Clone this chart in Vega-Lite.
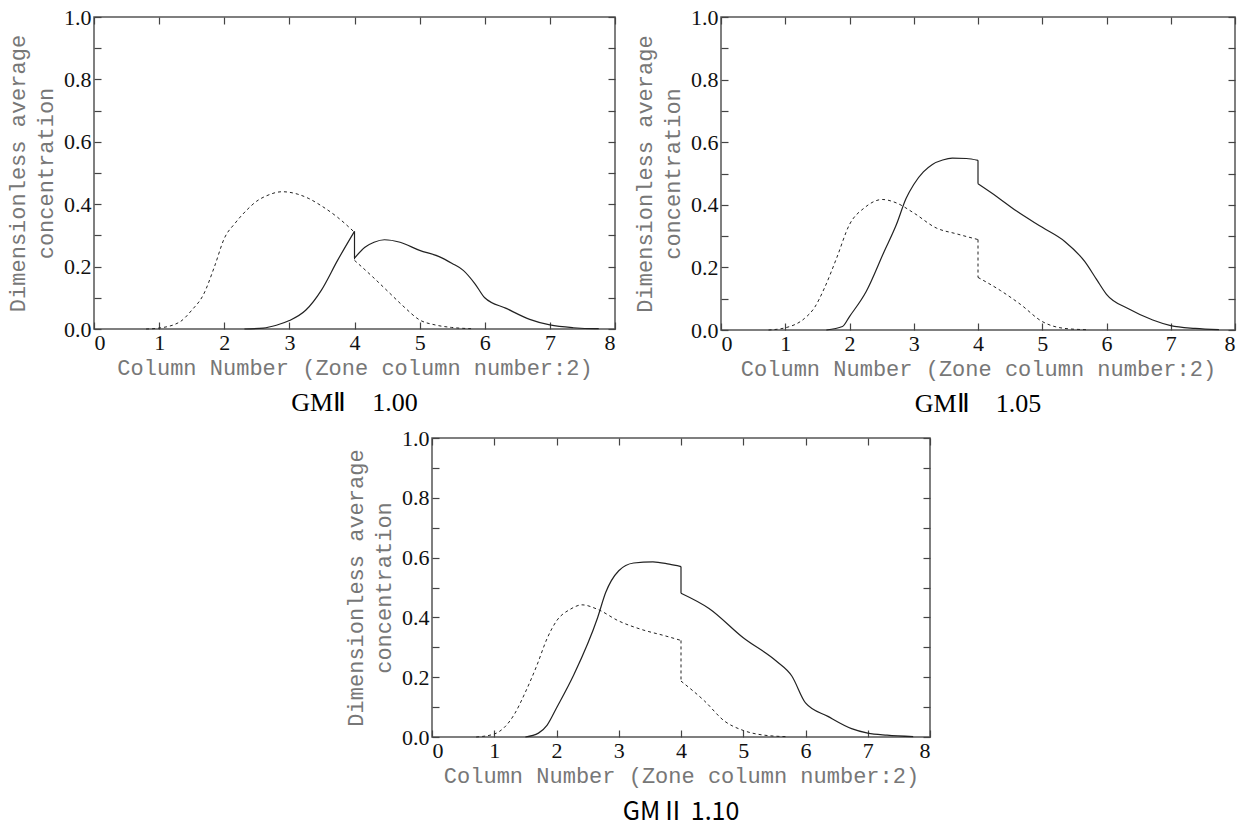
{
  "$schema": "https://vega.github.io/schema/vega-lite/v6.json",
  "background": "white",
  "padding": 5,
  "config": {
    "view": {"stroke": "#555", "strokeWidth": 1.5},
    "axis": {
      "labelFont": "Liberation Serif", "labelFontSize": 22, "labelColor": "#111",
      "titleFont": "Liberation Mono", "titleFontSize": 22, "titleFontWeight": "normal", "titleColor": "#777",
      "domain": false, "grid": false, "tickColor": "#444", "tickWidth": 1.2, "tickSize": -7
    },
    "line": {"interpolate": "monotone", "color": "#222"}
  },
  "datasets": {
    "d": [
      {"p":"a","s":"d","g":0,"i":0,"x":0.8,"y":0},{"p":"a","s":"d","g":0,"i":1,"x":1.0,"y":0.003},{"p":"a","s":"d","g":0,"i":2,"x":1.32,"y":0.023},{"p":"a","s":"d","g":0,"i":3,"x":1.5,"y":0.06},{"p":"a","s":"d","g":0,"i":4,"x":1.68,"y":0.11},{"p":"a","s":"d","g":0,"i":5,"x":1.85,"y":0.2},{"p":"a","s":"d","g":0,"i":6,"x":2.0,"y":0.29},{"p":"a","s":"d","g":0,"i":7,"x":2.17,"y":0.34},{"p":"a","s":"d","g":0,"i":8,"x":2.34,"y":0.38},{"p":"a","s":"d","g":0,"i":9,"x":2.5,"y":0.41},{"p":"a","s":"d","g":0,"i":10,"x":2.65,"y":0.427},{"p":"a","s":"d","g":0,"i":11,"x":2.89,"y":0.44},{"p":"a","s":"d","g":0,"i":12,"x":3.13,"y":0.432},{"p":"a","s":"d","g":0,"i":13,"x":3.3,"y":0.418},{"p":"a","s":"d","g":0,"i":14,"x":3.49,"y":0.395},{"p":"a","s":"d","g":0,"i":15,"x":3.74,"y":0.358},{"p":"a","s":"d","g":0,"i":16,"x":4.0,"y":0.31},
      {"p":"a","s":"d","g":2,"i":0,"x":4.0,"y":0.31},{"p":"a","s":"d","g":2,"i":1,"x":4.0,"y":0.22},
      {"p":"a","s":"d","g":1,"i":17,"x":4.0,"y":0.22},{"p":"a","s":"d","g":1,"i":18,"x":4.28,"y":0.167},{"p":"a","s":"d","g":1,"i":19,"x":4.52,"y":0.119},{"p":"a","s":"d","g":1,"i":20,"x":4.76,"y":0.071},{"p":"a","s":"d","g":1,"i":21,"x":5.0,"y":0.029},{"p":"a","s":"d","g":1,"i":22,"x":5.24,"y":0.013},{"p":"a","s":"d","g":1,"i":23,"x":5.49,"y":0.005},{"p":"a","s":"d","g":1,"i":24,"x":5.79,"y":0.001},
      {"p":"a","s":"s","g":0,"i":0,"x":2.31,"y":0},{"p":"a","s":"s","g":0,"i":1,"x":2.6,"y":0.003},{"p":"a","s":"s","g":0,"i":2,"x":2.8,"y":0.012},{"p":"a","s":"s","g":0,"i":3,"x":3.0,"y":0.027},{"p":"a","s":"s","g":0,"i":4,"x":3.25,"y":0.06},{"p":"a","s":"s","g":0,"i":5,"x":3.49,"y":0.124},{"p":"a","s":"s","g":0,"i":6,"x":3.74,"y":0.22},{"p":"a","s":"s","g":0,"i":7,"x":4.0,"y":0.313},
      {"p":"a","s":"s","g":2,"i":0,"x":4.0,"y":0.313},{"p":"a","s":"s","g":2,"i":1,"x":4.0,"y":0.227},
      {"p":"a","s":"s","g":1,"i":8,"x":4.0,"y":0.227},{"p":"a","s":"s","g":1,"i":9,"x":4.16,"y":0.262},{"p":"a","s":"s","g":1,"i":10,"x":4.3,"y":0.278},{"p":"a","s":"s","g":1,"i":11,"x":4.46,"y":0.286},{"p":"a","s":"s","g":1,"i":12,"x":4.7,"y":0.278},{"p":"a","s":"s","g":1,"i":13,"x":5.0,"y":0.252},{"p":"a","s":"s","g":1,"i":14,"x":5.3,"y":0.232},{"p":"a","s":"s","g":1,"i":15,"x":5.5,"y":0.21},{"p":"a","s":"s","g":1,"i":16,"x":5.67,"y":0.188},{"p":"a","s":"s","g":1,"i":17,"x":5.85,"y":0.145},{"p":"a","s":"s","g":1,"i":18,"x":6.0,"y":0.1},{"p":"a","s":"s","g":1,"i":19,"x":6.33,"y":0.066},{"p":"a","s":"s","g":1,"i":20,"x":6.69,"y":0.031},{"p":"a","s":"s","g":1,"i":21,"x":7.0,"y":0.013},{"p":"a","s":"s","g":1,"i":22,"x":7.36,"y":0.004},{"p":"a","s":"s","g":1,"i":23,"x":7.69,"y":0.001},{"p":"a","s":"s","g":1,"i":24,"x":7.75,"y":0.001},
      {"p":"b","s":"d","g":0,"i":0,"x":0.74,"y":0},{"p":"b","s":"d","g":0,"i":1,"x":1.0,"y":0.007},{"p":"b","s":"d","g":0,"i":2,"x":1.3,"y":0.037},{"p":"b","s":"d","g":0,"i":3,"x":1.45,"y":0.07},{"p":"b","s":"d","g":0,"i":4,"x":1.61,"y":0.134},{"p":"b","s":"d","g":0,"i":5,"x":1.8,"y":0.23},{"p":"b","s":"d","g":0,"i":6,"x":2.0,"y":0.337},{"p":"b","s":"d","g":0,"i":7,"x":2.23,"y":0.39},{"p":"b","s":"d","g":0,"i":8,"x":2.51,"y":0.417},{"p":"b","s":"d","g":0,"i":9,"x":2.73,"y":0.406},{"p":"b","s":"d","g":0,"i":10,"x":3.0,"y":0.374},{"p":"b","s":"d","g":0,"i":11,"x":3.35,"y":0.326},{"p":"b","s":"d","g":0,"i":12,"x":3.67,"y":0.307},{"p":"b","s":"d","g":0,"i":13,"x":4.0,"y":0.289},
      {"p":"b","s":"d","g":2,"i":0,"x":4.0,"y":0.289},{"p":"b","s":"d","g":2,"i":1,"x":4.0,"y":0.168},
      {"p":"b","s":"d","g":1,"i":14,"x":4.0,"y":0.168},{"p":"b","s":"d","g":1,"i":15,"x":4.35,"y":0.126},{"p":"b","s":"d","g":1,"i":16,"x":4.66,"y":0.082},{"p":"b","s":"d","g":1,"i":17,"x":5.0,"y":0.027},{"p":"b","s":"d","g":1,"i":18,"x":5.35,"y":0.005},{"p":"b","s":"d","g":1,"i":19,"x":5.69,"y":0.001},
      {"p":"b","s":"s","g":0,"i":0,"x":1.64,"y":0},{"p":"b","s":"s","g":0,"i":1,"x":1.89,"y":0.011},{"p":"b","s":"s","g":0,"i":2,"x":2.0,"y":0.043},{"p":"b","s":"s","g":0,"i":3,"x":2.26,"y":0.123},{"p":"b","s":"s","g":0,"i":4,"x":2.54,"y":0.251},{"p":"b","s":"s","g":0,"i":5,"x":2.73,"y":0.337},{"p":"b","s":"s","g":0,"i":6,"x":2.88,"y":0.42},{"p":"b","s":"s","g":0,"i":7,"x":3.0,"y":0.465},{"p":"b","s":"s","g":0,"i":8,"x":3.15,"y":0.505},{"p":"b","s":"s","g":0,"i":9,"x":3.29,"y":0.529},{"p":"b","s":"s","g":0,"i":10,"x":3.45,"y":0.543},{"p":"b","s":"s","g":0,"i":11,"x":3.6,"y":0.549},{"p":"b","s":"s","g":0,"i":12,"x":3.82,"y":0.548},{"p":"b","s":"s","g":0,"i":13,"x":4.0,"y":0.542},
      {"p":"b","s":"s","g":2,"i":0,"x":4.0,"y":0.542},{"p":"b","s":"s","g":2,"i":1,"x":4.0,"y":0.467},
      {"p":"b","s":"s","g":1,"i":14,"x":4.0,"y":0.467},{"p":"b","s":"s","g":1,"i":15,"x":4.3,"y":0.425},{"p":"b","s":"s","g":1,"i":16,"x":4.6,"y":0.38},{"p":"b","s":"s","g":1,"i":17,"x":5.0,"y":0.328},{"p":"b","s":"s","g":1,"i":18,"x":5.35,"y":0.283},{"p":"b","s":"s","g":1,"i":19,"x":5.66,"y":0.219},{"p":"b","s":"s","g":1,"i":20,"x":5.85,"y":0.16},{"p":"b","s":"s","g":1,"i":21,"x":6.0,"y":0.114},{"p":"b","s":"s","g":1,"i":22,"x":6.35,"y":0.067},{"p":"b","s":"s","g":1,"i":23,"x":6.72,"y":0.032},{"p":"b","s":"s","g":1,"i":24,"x":7.0,"y":0.014},{"p":"b","s":"s","g":1,"i":25,"x":7.38,"y":0.005},{"p":"b","s":"s","g":1,"i":26,"x":7.75,"y":0.001},
      {"p":"c","s":"d","g":0,"i":0,"x":0.71,"y":0},{"p":"c","s":"d","g":0,"i":1,"x":1.0,"y":0.01},{"p":"c","s":"d","g":0,"i":2,"x":1.32,"y":0.075},{"p":"c","s":"d","g":0,"i":3,"x":1.5,"y":0.15},{"p":"c","s":"d","g":0,"i":4,"x":1.68,"y":0.237},{"p":"c","s":"d","g":0,"i":5,"x":1.85,"y":0.33},{"p":"c","s":"d","g":0,"i":6,"x":2.0,"y":0.388},{"p":"c","s":"d","g":0,"i":7,"x":2.22,"y":0.427},{"p":"c","s":"d","g":0,"i":8,"x":2.41,"y":0.442},{"p":"c","s":"d","g":0,"i":9,"x":2.66,"y":0.427},{"p":"c","s":"d","g":0,"i":10,"x":3.0,"y":0.388},{"p":"c","s":"d","g":0,"i":11,"x":3.36,"y":0.36},{"p":"c","s":"d","g":0,"i":12,"x":3.75,"y":0.338},{"p":"c","s":"d","g":0,"i":13,"x":4.0,"y":0.323},
      {"p":"c","s":"d","g":2,"i":0,"x":4.0,"y":0.323},{"p":"c","s":"d","g":2,"i":1,"x":4.0,"y":0.187},
      {"p":"c","s":"d","g":1,"i":14,"x":4.0,"y":0.187},{"p":"c","s":"d","g":1,"i":15,"x":4.38,"y":0.12},{"p":"c","s":"d","g":1,"i":16,"x":4.7,"y":0.053},{"p":"c","s":"d","g":1,"i":17,"x":5.0,"y":0.022},{"p":"c","s":"d","g":1,"i":18,"x":5.34,"y":0.006},{"p":"c","s":"d","g":1,"i":19,"x":5.72,"y":0.001},
      {"p":"c","s":"s","g":0,"i":0,"x":1.5,"y":0},{"p":"c","s":"s","g":0,"i":1,"x":1.71,"y":0.013},{"p":"c","s":"s","g":0,"i":2,"x":1.85,"y":0.04},{"p":"c","s":"s","g":0,"i":3,"x":2.0,"y":0.097},{"p":"c","s":"s","g":0,"i":4,"x":2.28,"y":0.209},{"p":"c","s":"s","g":0,"i":5,"x":2.66,"y":0.399},{"p":"c","s":"s","g":0,"i":6,"x":2.79,"y":0.483},{"p":"c","s":"s","g":0,"i":7,"x":3.0,"y":0.556},{"p":"c","s":"s","g":0,"i":8,"x":3.24,"y":0.582},{"p":"c","s":"s","g":0,"i":9,"x":3.55,"y":0.586},{"p":"c","s":"s","g":0,"i":10,"x":3.81,"y":0.578},{"p":"c","s":"s","g":0,"i":11,"x":4.0,"y":0.57},
      {"p":"c","s":"s","g":2,"i":0,"x":4.0,"y":0.57},{"p":"c","s":"s","g":2,"i":1,"x":4.0,"y":0.481},
      {"p":"c","s":"s","g":1,"i":12,"x":4.0,"y":0.481},{"p":"c","s":"s","g":1,"i":13,"x":4.45,"y":0.43},{"p":"c","s":"s","g":1,"i":14,"x":5.0,"y":0.332},{"p":"c","s":"s","g":1,"i":15,"x":5.53,"y":0.254},{"p":"c","s":"s","g":1,"i":16,"x":5.78,"y":0.204},{"p":"c","s":"s","g":1,"i":17,"x":6.0,"y":0.114},{"p":"c","s":"s","g":1,"i":18,"x":6.36,"y":0.069},{"p":"c","s":"s","g":1,"i":19,"x":6.74,"y":0.028},{"p":"c","s":"s","g":1,"i":20,"x":7.0,"y":0.013},{"p":"c","s":"s","g":1,"i":21,"x":7.31,"y":0.006},{"p":"c","s":"s","g":1,"i":22,"x":7.73,"y":0.001}
    ]
  },
  "data": {"name": "d"},
  "spacing": 8,
  "vconcat": [
    {
      "spacing": 15,
      "hconcat": [
        {
          "width": 521, "height": 312,
          "transform": [{"filter": "datum.p == 'a'"}],
          "title": {"text": "GMⅡ　1.00", "orient": "bottom", "font": "Liberation Serif", "fontSize": 26, "fontWeight": "normal", "color": "#000", "offset": 12},
          "layer": [
            {
              "transform": [{"filter": "datum.s == 'd'"}],
              "mark": {"type": "line", "strokeDash": [3, 3], "strokeWidth": 1},
              "encoding": {
                "x": {"field": "x", "type": "quantitative", "scale": {"domain": [0, 8], "nice": false}, "axis": {"orient": "bottom", "values": [0,1,2,3,4,5,6,7,8], "format": "d", "labelPadding": 10, "title": "Column Number (Zone column number:2)", "titlePadding": 4}},
                "y": {"field": "y", "type": "quantitative", "scale": {"domain": [0, 1], "nice": false}, "axis": {"orient": "left", "values": [0,0.1,0.2,0.3,0.4,0.5,0.6,0.7,0.8,0.9,1.0], "labelExpr": "round(datum.value*10) % 2 == 0 ? format(datum.value, '.1f') : ''", "labelPadding": 10, "title": ["Dimensionless average", "concentration"], "titlePadding": 6, "titleLineHeight": 28}},
                "detail": {"field": "g"},
                "order": {"field": "i", "type": "quantitative"}
              }
            },
            {
              "transform": [{"filter": "datum.s == 's'"}],
              "mark": {"type": "line", "strokeWidth": 1.2},
              "encoding": {
                "x": {"field": "x", "type": "quantitative", "scale": {"domain": [0, 8], "nice": false}, "axis": {"orient": "top", "values": [0,1,2,3,4,5,6,7,8], "labels": false, "title": null}},
                "y": {"field": "y", "type": "quantitative", "scale": {"domain": [0, 1], "nice": false}, "axis": {"orient": "right", "values": [0,0.1,0.2,0.3,0.4,0.5,0.6,0.7,0.8,0.9,1.0], "labels": false, "title": null}},
                "detail": {"field": "g"},
                "order": {"field": "i", "type": "quantitative"}
              }
            }
          ],
          "resolve": {"axis": {"x": "independent", "y": "independent"}}
        },
        {
          "width": 514, "height": 313,
          "transform": [{"filter": "datum.p == 'b'"}],
          "title": {"text": "GMⅡ　1.05", "orient": "bottom", "font": "Liberation Serif", "fontSize": 26, "fontWeight": "normal", "color": "#000", "offset": 12},
          "layer": [
            {
              "transform": [{"filter": "datum.s == 'd'"}],
              "mark": {"type": "line", "strokeDash": [3, 3], "strokeWidth": 1},
              "encoding": {
                "x": {"field": "x", "type": "quantitative", "scale": {"domain": [0, 8], "nice": false}, "axis": {"orient": "bottom", "values": [0,1,2,3,4,5,6,7,8], "format": "d", "labelPadding": 10, "title": "Column Number (Zone column number:2)", "titlePadding": 4}},
                "y": {"field": "y", "type": "quantitative", "scale": {"domain": [0, 1], "nice": false}, "axis": {"orient": "left", "values": [0,0.1,0.2,0.3,0.4,0.5,0.6,0.7,0.8,0.9,1.0], "labelExpr": "round(datum.value*10) % 2 == 0 ? format(datum.value, '.1f') : ''", "labelPadding": 10, "title": ["Dimensionless average", "concentration"], "titlePadding": 6, "titleLineHeight": 28}},
                "detail": {"field": "g"},
                "order": {"field": "i", "type": "quantitative"}
              }
            },
            {
              "transform": [{"filter": "datum.s == 's'"}],
              "mark": {"type": "line", "strokeWidth": 1.2},
              "encoding": {
                "x": {"field": "x", "type": "quantitative", "scale": {"domain": [0, 8], "nice": false}, "axis": {"orient": "top", "values": [0,1,2,3,4,5,6,7,8], "labels": false, "title": null}},
                "y": {"field": "y", "type": "quantitative", "scale": {"domain": [0, 1], "nice": false}, "axis": {"orient": "right", "values": [0,0.1,0.2,0.3,0.4,0.5,0.6,0.7,0.8,0.9,1.0], "labels": false, "title": null}},
                "detail": {"field": "g"},
                "order": {"field": "i", "type": "quantitative"}
              }
            }
          ],
          "resolve": {"axis": {"x": "independent", "y": "independent"}}
        }
      ]
    },
    {
      "spacing": 20,
      "hconcat": [
        {
          "width": 229, "height": 10,
          "view": {"stroke": null},
          "data": {"values": [{"v": ""}]},
          "mark": {"type": "text", "text": ""}
        },
        {
          "width": 498, "height": 299,
          "transform": [{"filter": "datum.p == 'c'"}],
          "title": {"text": "GMⅡ 1.10", "orient": "bottom", "font": "Noto Sans CJK JP", "fontSize": 25, "fontWeight": "normal", "color": "#000", "offset": 14},
          "layer": [
            {
              "transform": [{"filter": "datum.s == 'd'"}],
              "mark": {"type": "line", "strokeDash": [3, 3], "strokeWidth": 1},
              "encoding": {
                "x": {"field": "x", "type": "quantitative", "scale": {"domain": [0, 8], "nice": false}, "axis": {"orient": "bottom", "values": [0,1,2,3,4,5,6,7,8], "format": "d", "labelPadding": 10, "title": "Column Number (Zone column number:2)", "titlePadding": 4}},
                "y": {"field": "y", "type": "quantitative", "scale": {"domain": [0, 1], "nice": false}, "axis": {"orient": "left", "values": [0,0.1,0.2,0.3,0.4,0.5,0.6,0.7,0.8,0.9,1.0], "labelExpr": "round(datum.value*10) % 2 == 0 ? format(datum.value, '.1f') : ''", "labelPadding": 10, "title": ["Dimensionless average", "concentration"], "titlePadding": 6, "titleLineHeight": 28}},
                "detail": {"field": "g"},
                "order": {"field": "i", "type": "quantitative"}
              }
            },
            {
              "transform": [{"filter": "datum.s == 's'"}],
              "mark": {"type": "line", "strokeWidth": 1.2},
              "encoding": {
                "x": {"field": "x", "type": "quantitative", "scale": {"domain": [0, 8], "nice": false}, "axis": {"orient": "top", "values": [0,1,2,3,4,5,6,7,8], "labels": false, "title": null}},
                "y": {"field": "y", "type": "quantitative", "scale": {"domain": [0, 1], "nice": false}, "axis": {"orient": "right", "values": [0,0.1,0.2,0.3,0.4,0.5,0.6,0.7,0.8,0.9,1.0], "labels": false, "title": null}},
                "detail": {"field": "g"},
                "order": {"field": "i", "type": "quantitative"}
              }
            }
          ],
          "resolve": {"axis": {"x": "independent", "y": "independent"}}
        }
      ]
    }
  ]
}
